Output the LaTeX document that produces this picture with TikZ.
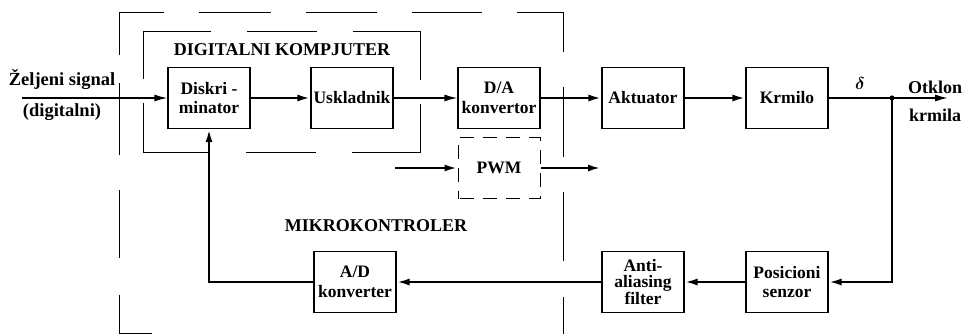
\documentclass[tikz,border=0pt]{standalone}
\usepackage{amsmath}
\usepackage{fontspec}
\setmainfont{Liberation Serif}
\usetikzlibrary{arrows.meta}
\begin{document}
\begin{tikzpicture}[x=1pt,y=1pt,
	blok/.style={draw,line width=1.1pt,minimum width=82pt,minimum height=61pt,inner sep=0pt,align=center,font=\fontsize{17.5}{19.5}\selectfont\bfseries},
	natpis/.style={inner sep=0pt,font=\fontsize{18}{20}\selectfont\bfseries},
	veza/.style={line width=2.4pt,-{Latex[length=13pt,width=7pt]}},
	tanka/.style={line width=1.5pt,-{Latex[length=13pt,width=7pt]}},
	okvir/.style={line width=0.8pt}]
				\useasboundingbox (0,0) rectangle (963,-334);
				% okviri mikrokontrolera i racunara
				\draw [okvir,dash pattern=on 71pt off 37pt on 68pt off 35pt on 72pt off 28pt on 88pt off 35pt on 72pt off 35pt on 71pt off 35pt on 70pt off 35pt on 86pt off 35pt on 70pt off 35pt on 69pt off 36pt on 60pt]
					(152,-333) -- (119,-333) -- (119,-12) -- (563,-12) -- (563,-334);
				\draw [okvir,dash pattern=on 70pt off 36pt on 116pt off 24pt on 116pt off 36pt]
					(247,-31) -- (420,-31) -- (420,-152) -- (143,-152) -- (143,-31) -- cycle;
				\node [natpis] (racunar) at (282,-50) {DIGITALNI KOMPJUTER};
				\node [natpis] (mikro) at (376,-226) {MIKROKONTROLER};
				% blokovi
				\node [blok] (diskr) at (209,-98) {Diskri -\\minator};
				\node [blok] (uskl) at (352,-98) {Uskladnik};
				\node [blok] (da) at (499,-98) {D/A\\konvertor};
				\node [blok] (akt) at (643,-98) {Aktuator};
				\node [blok] (krm) at (787,-98) {Krmilo};
				\node [blok,line width=1pt,dash pattern=on 14pt off 9pt,dash phase=-2pt] (pwm) at (499,-168) {PWM};
				\node [blok] (ad) at (355,-282) {A/D\\konverter};
				\node [blok,font=\fontsize{17.5}{16.5}\selectfont\bfseries] (filt) at (643,-282) {Anti-\\aliasing\\filter};
				\node [blok] (senz) at (787,-282) {Posicioni\\senzor};
				% ulaz i izlaz
				\coordinate (ulaz) at (22,-98);
				\coordinate (cvor) at (892,-98);
				\coordinate (izlaz) at (948,-98);
				\coordinate (pwmul) at (395,-168);
				\coordinate (pwmiz) at (601,-168);
				\node [natpis,font=\fontsize{18.5}{20}\selectfont\bfseries] (zeljeni) at (62,-80) {Željeni signal};
				\node [natpis,font=\fontsize{18.5}{20}\selectfont\bfseries] (digit) at (62,-112) {(digitalni)};
				\node [natpis] (delta) at (860,-84) {$\boldsymbol{\delta}$};
				\node [natpis] (otklon) at (935,-87) {Otklon};
				\node [natpis] (krmila) at (935,-115) {krmila};
				% direktna grana
				\draw [tanka] (ulaz) -- (diskr);
				\draw [veza] (diskr) -- (uskl);
				\draw [tanka] (uskl) -- (da);
				\draw [veza] (da) -- (akt);
				\draw [veza] (akt) -- (krm);
				\draw [line width=2.4pt] (krm) -- (cvor);
				\draw [tanka] (cvor) -- (izlaz);
				\fill (cvor) circle (2.6);
				\draw [veza] (pwmul) -- (pwm);
				\draw [veza] (pwm) -- (pwmiz);
				% povratna grana
				\draw [veza] (cvor) |- (senz);
				\draw [veza] (senz) -- (filt);
				\draw [veza] (filt) -- (ad);
				\draw [veza] (ad) -| (diskr);
\end{tikzpicture}
\end{document}
